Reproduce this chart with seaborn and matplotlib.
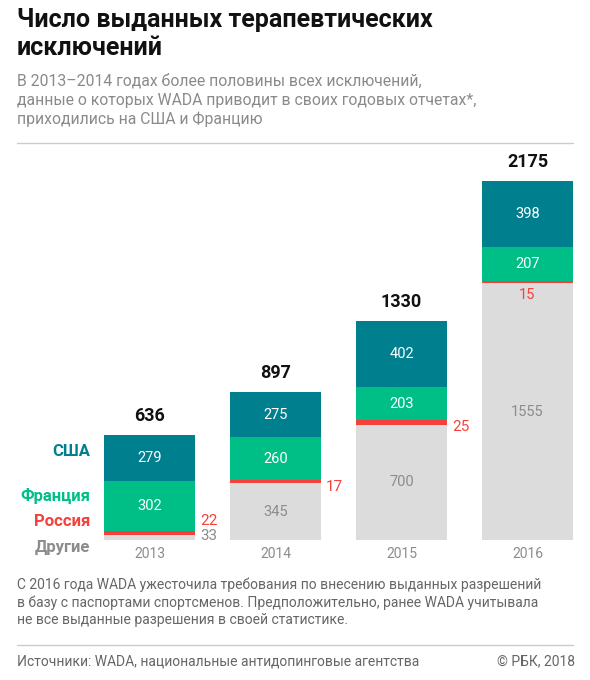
import matplotlib
matplotlib.use("Agg")
import matplotlib.pyplot as plt
import seaborn as sns
import pandas as pd
import numpy as np

years = ["2013", "2014", "2015", "2016"]
usa = [279, 275, 402, 398]
france = [302, 260, 203, 207]
russia = [22, 17, 25, 15]
others = [33, 345, 700, 1555]
totals = [636, 897, 1330, 2175]

C_USA = "#00808f"
C_FR = "#00bf86"
C_RU = "#f5413b"
C_OT = "#dcdcdc"
C_GREY = "#8c8c8c"

sns.set_theme(style="white")
plt.rcParams['font.family'] = ['Roboto', 'DejaVu Sans']

W, H = 590, 680
fig = plt.figure(figsize=(W/100, H/100), dpi=100)

def px(x, y):
    return x / W, 1 - y / H

fig.text(*px(17, 34), "Число выданных терапевтических\nисключений", fontsize=18,
         fontweight="bold", va="center", ha="left", color="#111111", linespacing=1.2)
fig.text(*px(17, 100), "В 2013–2014 годах более половины всех исключений,\n"
         "данные о которых WADA приводит в своих годовых отчетах*,\n"
         "приходились на США и Францию", fontsize=11.3, color="#8a8a8a",
         va="center", ha="left", linespacing=1.3)
fig.add_artist(plt.Line2D([17/W, 573/W], [1-143/H]*2, color="#cccccc", lw=1))
fig.text(*px(17, 602), "С 2016 года WADA ужесточила требования по внесению выданных разрешений\n"
         "в базу с паспортами спортсменов. Предположительно, ранее WADA учитывала\n"
         "не все выданные разрешения в своей статистике.", fontsize=10,
         color="#666666", va="center", ha="left", linespacing=1.3)
fig.add_artist(plt.Line2D([17/W, 573/W], [1-645/H]*2, color="#cccccc", lw=1))
fig.text(*px(17, 661), "Источники: WADA, национальные антидопинговые агентства", fontsize=10,
         color="#666666", va="center", ha="left")
fig.text(*px(575, 661), "© РБК, 2018", fontsize=10, color="#666666", va="center", ha="right")

spacing = 126.0
left_px = 149.5 - 0.5 * spacing
right_px = 149.5 + 3.5 * spacing
top_px, base_px = 160, 540
ax = fig.add_axes([left_px / W, 1 - base_px / H, (right_px - left_px) / W, (base_px - top_px) / H])
ymax = (base_px - top_px) / 0.165

df = pd.DataFrame({"year": years, "usa": usa, "france": france, "russia": russia, "others": others})
df["c_ot"] = df["others"]
df["c_ru"] = df["c_ot"] + df["russia"]
df["c_fr"] = df["c_ru"] + df["france"]
df["c_us"] = df["c_fr"] + df["usa"]

bw = 91 / spacing
for col, c in [("c_us", C_USA), ("c_fr", C_FR), ("c_ru", C_RU), ("c_ot", C_OT)]:
    sns.barplot(data=df, x="year", y=col, color=c, width=bw, saturation=1,
                linewidth=0, ax=ax)

ax.set_xlim(-0.5, 3.5)
ax.set_ylim(0, ymax)
ax.axis("off")

for i in range(4):
    o, r, f, u = others[i], russia[i], france[i], usa[i]
    ax.text(i, totals[i] + 60, str(totals[i]), ha="center", va="bottom",
            fontsize=13, fontweight="bold", color="#111111")
    ax.text(i, o + r + f + u / 2, str(u), ha="center", va="center", fontsize=10.5, color="white")
    ax.text(i, o + r + f / 2, str(f), ha="center", va="center", fontsize=10.5, color="white")
    ax.text(i, -45, years[i], ha="center", va="top", fontsize=10, color=C_GREY)
    if i == 0:
        ax.text(i + bw / 2 + 0.04, o + r + 20, str(r), ha="left", va="bottom", fontsize=11, color=C_RU)
        ax.text(i + bw / 2 + 0.04, o - 10, str(o), ha="left", va="center", fontsize=11, color=C_GREY)
    elif i == 3:
        ax.text(i, o - 70, str(r), ha="center", va="center", fontsize=10.5, color=C_RU)
        ax.text(i, o / 2, str(o), ha="center", va="center", fontsize=10.5, color=C_GREY)
    else:
        ax.text(i + bw / 2 + 0.04, o + r / 2 - 30, str(r), ha="left", va="center", fontsize=11, color=C_RU)
        ax.text(i, o / 2, str(o), ha="center", va="center", fontsize=10.5, color=C_GREY)

for label, c, y in [("США", C_USA, 451), ("Франция", C_FR, 496), ("Россия", C_RU, 522), ("Другие", C_GREY, 547)]:
    fig.text(*px(90, y), label, ha="right", va="center", fontsize=12, fontweight="bold", color=c)

fig.savefig("out.png", dpi=100)
